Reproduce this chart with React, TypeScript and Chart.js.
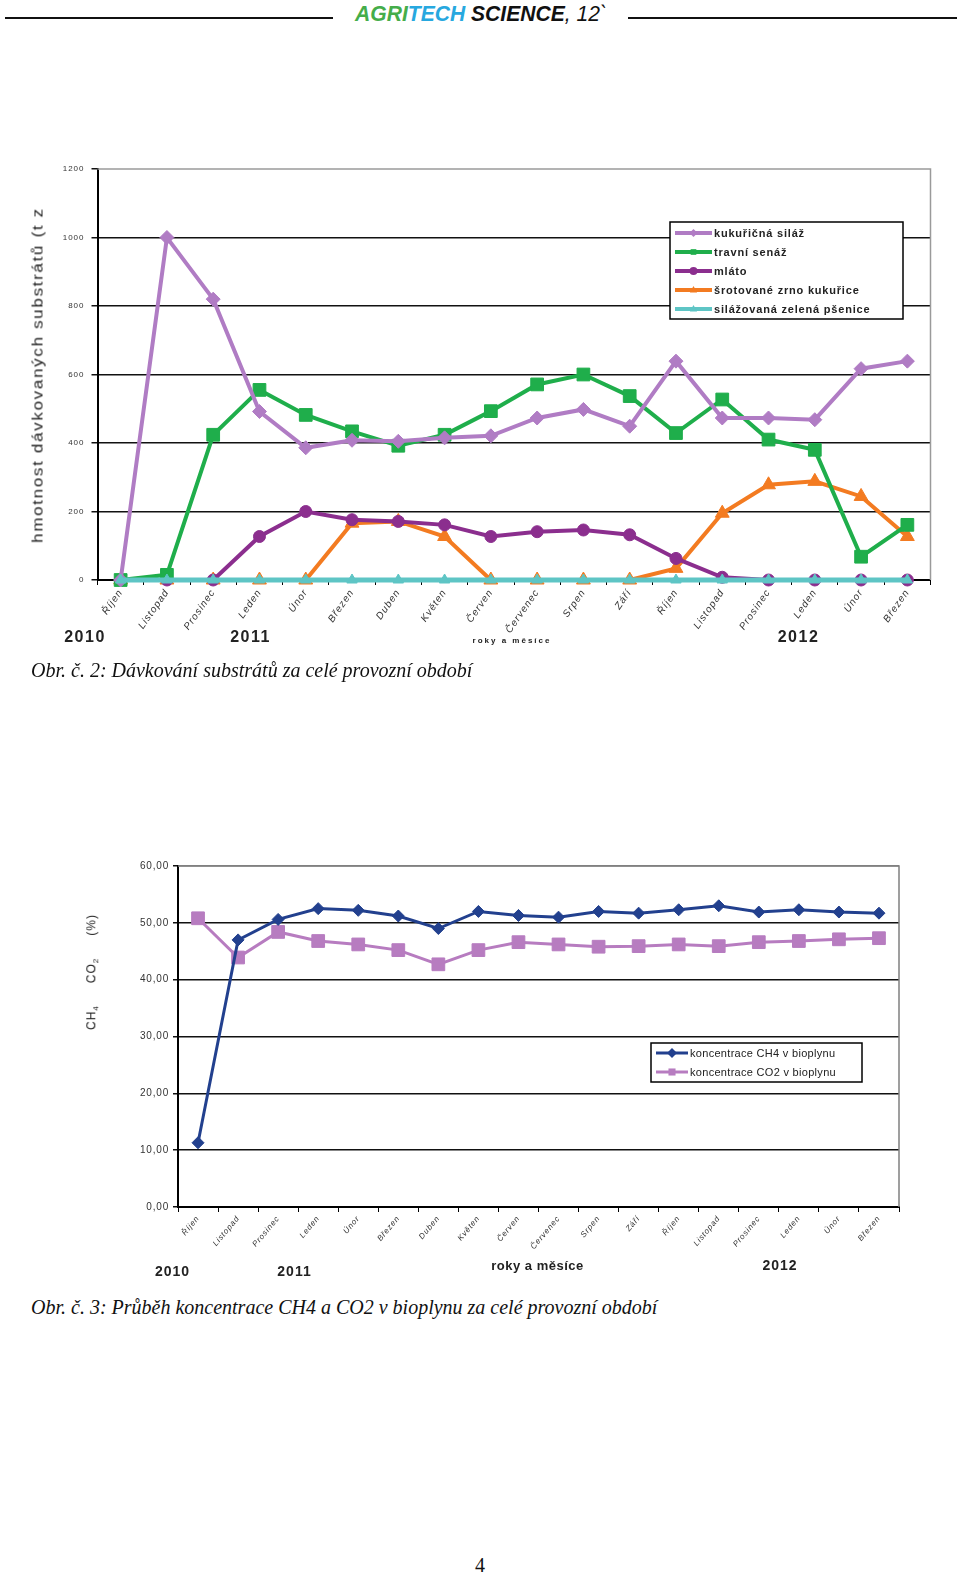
import React, { useEffect, useLayoutEffect, useRef } from 'react';
import { Chart, registerables } from 'chart.js';

Chart.register(...registerables);

const SANS = '"Liberation Sans", Arial, Helvetica, sans-serif';
const SERIF = '"Liberation Serif", "Times New Roman", serif';

// ---------- data ----------
const months = ['Říjen', 'Listopad', 'Prosinec', 'Leden', 'Únor', 'Březen', 'Duben', 'Květen', 'Červen', 'Červenec', 'Srpen', 'Září', 'Říjen', 'Listopad', 'Prosinec', 'Leden', 'Únor', 'Březen'];
const years = ['2010', '2011', '2012'];
const xAxisTitle = 'roky a měsíce';

const kukuricnaSilaz = [0, 1000, 820, 492, 386, 408, 405, 415, 421, 473, 498, 449, 639, 473, 473, 468, 617, 639];
const travniSenaz = [0, 15, 424, 555, 482, 434, 392, 424, 493, 571, 600, 537, 429, 527, 410, 380, 68, 161];
const mlato = [0, 0, 0, 127, 200, 176, 171, 161, 127, 141, 146, 132, 63, 8, 0, 0, 0, 0];
const srotovaneZrno = [0, 0, 0, 0, 0, 166, 171, 127, 0, 0, 0, 0, 34, 195, 278, 288, 244, 127];
const silazovanaPsenice = [0, 0, 0, 0, 0, 0, 0, 0, 0, 0, 0, 0, 0, 0, 0, 0, 0, 0];
const substrateTicks = [0, 200, 400, 600, 800, 1000, 1200];

const ch4 = [11.3, 47.0, 50.6, 52.5, 52.2, 51.2, 49.0, 52.0, 51.3, 51.0, 52.0, 51.7, 52.3, 53.0, 51.9, 52.3, 51.9, 51.7];
const co2 = [50.8, 43.9, 48.4, 46.8, 46.2, 45.2, 42.7, 45.2, 46.6, 46.2, 45.8, 45.9, 46.2, 45.9, 46.6, 46.8, 47.1, 47.3];
const gasTicks = [0, 10, 20, 30, 40, 50, 60];

// ---------- plugins ----------
const spacingPlugin = {
  id: 'spacing',
  beforeDraw(chart: any, _a: any, o: any) {
    chart.ctx.letterSpacing = (o && o.value) || '0px';
  },
  afterDraw(chart: any) {
    chart.ctx.letterSpacing = '0px';
  },
};

const framePlugin = {
  id: 'frame',
  beforeDatasetsDraw(chart: any, _a: any, o: any) {
    const { ctx, chartArea } = chart;
    ctx.save();
    ctx.strokeStyle = o.color || '#999';
    ctx.lineWidth = o.width || 1.5;
    ctx.beginPath();
    ctx.moveTo(chartArea.left, chartArea.top);
    ctx.lineTo(chartArea.right, chartArea.top);
    ctx.lineTo(chartArea.right, chartArea.bottom);
    ctx.stroke();
    ctx.restore();
  },
};

function drawMarker(ctx: CanvasRenderingContext2D, style: string, x: number, y: number, r: number, color: string) {
  ctx.fillStyle = color;
  ctx.beginPath();
  if (style === 'rect') {
    const s = r * Math.SQRT1_2;
    ctx.rect(x - s, y - s, 2 * s, 2 * s);
  } else if (style === 'rectRot') {
    ctx.moveTo(x, y - r);
    ctx.lineTo(x + r, y);
    ctx.lineTo(x, y + r);
    ctx.lineTo(x - r, y);
    ctx.closePath();
  } else if (style === 'triangle') {
    ctx.moveTo(x, y - r);
    ctx.lineTo(x + r * 0.9, y + r * 0.6);
    ctx.lineTo(x - r * 0.9, y + r * 0.6);
    ctx.closePath();
  } else {
    ctx.arc(x, y, r, 0, Math.PI * 2);
  }
  ctx.fill();
}

const boxLegendPlugin = {
  id: 'boxLegend',
  afterDraw(chart: any, _a: any, o: any) {
    const ctx: CanvasRenderingContext2D = chart.ctx;
    ctx.save();
    (ctx as any).letterSpacing = o.spacing || '1px';
    ctx.fillStyle = '#fff';
    ctx.fillRect(o.x, o.y, o.w, o.h);
    ctx.strokeStyle = '#000';
    ctx.lineWidth = 1.5;
    ctx.strokeRect(o.x, o.y, o.w, o.h);
    ctx.font = o.font;
    ctx.textBaseline = 'middle';
    ctx.textAlign = 'left';
    chart.data.datasets.forEach((d: any, i: number) => {
      const cy = o.y + o.first + i * o.row;
      const x1 = o.x + o.pad;
      const x2 = x1 + o.len;
      ctx.strokeStyle = d.borderColor;
      ctx.lineWidth = o.lineWidth;
      ctx.beginPath();
      ctx.moveTo(x1, cy);
      ctx.lineTo(x2, cy);
      ctx.stroke();
      drawMarker(ctx, d.pointStyle, (x1 + x2) / 2, cy, o.marker, d.borderColor);
      ctx.fillStyle = '#222';
      ctx.fillText(d.label, x2 + 2, cy + 0.5);
    });
    ctx.restore();
  },
};

const series = (label: string, data: number[], color: string, pointStyle: string, radius: number, width: number, order: number) => ({
  label,
  data,
  borderColor: color,
  backgroundColor: color,
  pointBackgroundColor: color,
  pointBorderColor: color,
  pointStyle,
  pointRadius: radius,
  pointBorderWidth: 1,
  borderWidth: width,
  tension: 0,
  clip: false,
  order,
});

function substrateConfig(): any {
  return {
    type: 'line',
    data: {
      labels: months,
      datasets: [
        series('kukuřičná siláž', kukuricnaSilaz, '#B07CC4', 'rectRot', 7, 4, 1),
        series('travní senáž', travniSenaz, '#1FAE4B', 'rect', 9, 4, 2),
        series('mláto', mlato, '#8B2E8E', 'circle', 6, 4, 3),
        series('šrotované zrno kukuřice', srotovaneZrno, '#F37B21', 'triangle', 8, 4, 4),
        series('silážovaná zelená pšenice', silazovanaPsenice, '#5EC5C5', 'triangle', 6, 5, 0),
      ],
    },
    options: {
      responsive: false,
      animation: false,
      events: [],
      layout: { padding: { top: 29, right: 29.5, left: 0, bottom: 0 } },
      plugins: {
        legend: { display: false },
        tooltip: { enabled: false },
        spacing: { value: '1px' },
        frame: { color: '#9a9a9a', width: 1.5 },
        boxLegend: {
          x: 670, y: 82, w: 233, h: 97, first: 11, row: 19, pad: 5, len: 37,
          lineWidth: 4, marker: 4, font: `bold 11px ${SANS}`, spacing: '0.8px',
        },
      },
      scales: {
        x: {
          offset: true,
          grid: { display: true, drawOnChartArea: false, drawTicks: true, tickLength: 5, color: '#000', offset: true },
          border: { color: '#000', width: 2 },
          ticks: { autoSkip: false, maxRotation: 55, minRotation: 55, padding: 2, color: '#333', font: { size: 10, style: 'italic', family: SANS } },
          afterFit: (s: any) => { s.height = 80; },
        },
        y: {
          min: substrateTicks[0],
          max: substrateTicks[substrateTicks.length - 1],
          afterBuildTicks: (s: any) => { s.ticks = substrateTicks.map((v) => ({ value: v })); },
          ticks: {
            padding: 7,
            color: '#333',
            font: { size: 8, family: SANS },
            callback: (v: any) => String(v),
          },
          grid: {
            color: (c: any) => (c.tick && c.tick.value === 1200 ? 'rgba(0,0,0,0)' : '#111'),
            lineWidth: 1.5,
            tickLength: 6,
            tickColor: '#111',
          },
          border: { color: '#000', width: 2 },
          afterFit: (s: any) => { s.width = 97.5; },
        },
      },
    },
    plugins: [spacingPlugin, framePlugin, boxLegendPlugin],
  };
}

function gasConfig(): any {
  return {
    type: 'line',
    data: {
      labels: months,
      datasets: [
        series('koncentrace CH4 v bioplynu', ch4, '#22408E', 'rectRot', 6, 3, 0),
        series('koncentrace CO2 v bioplynu', co2, '#B77CC0', 'rect', 9, 3, 1),
      ],
    },
    options: {
      responsive: false,
      animation: false,
      events: [],
      layout: { padding: { top: 26, right: 61, left: 0, bottom: 0 } },
      plugins: {
        legend: { display: false },
        tooltip: { enabled: false },
        spacing: { value: '0.8px' },
        frame: { color: '#808080', width: 1.5 },
        boxLegend: {
          x: 651, y: 203, w: 211, h: 39, first: 10, row: 19, pad: 5, len: 32,
          lineWidth: 3, marker: 5, font: `11px ${SANS}`, spacing: '0.3px',
        },
      },
      scales: {
        x: {
          offset: true,
          grid: { display: true, drawOnChartArea: false, drawTicks: true, tickLength: 5, color: '#000', offset: true },
          border: { color: '#000', width: 2 },
          ticks: { autoSkip: false, maxRotation: 50, minRotation: 50, padding: 2, color: '#333', font: { size: 8, style: 'italic', family: SANS } },
          afterFit: (s: any) => { s.height = 73; },
        },
        y: {
          min: gasTicks[0],
          max: gasTicks[gasTicks.length - 1],
          afterBuildTicks: (s: any) => { s.ticks = gasTicks.map((v) => ({ value: v })); },
          ticks: {
            padding: 4,
            color: '#333',
            font: { size: 10, family: SANS },
            callback: (v: any) => Number(v).toFixed(2).replace('.', ','),
          },
          grid: {
            color: (c: any) => (c.tick && c.tick.value === 60 ? '#808080' : '#111'),
            lineWidth: 1.5,
            tickLength: 5,
            tickColor: '#111',
          },
          border: { color: '#000', width: 2 },
          afterFit: (s: any) => { s.width = 178; },
        },
      },
    },
    plugins: [spacingPlugin, framePlugin, boxLegendPlugin],
  };
}

function ChartCanvas({ make, left, top, width, height }: any) {
  const ref = useRef<HTMLCanvasElement>(null);
  useEffect(() => {
    const chart = new Chart(ref.current as HTMLCanvasElement, make());
    return () => chart.destroy();
  }, []);
  return <canvas ref={ref} width={width} height={height} style={{ position: 'absolute', left, top, width, height }} />;
}

function FitText({ target, style, children }: any) {
  const ref = useRef<HTMLSpanElement>(null);
  useLayoutEffect(() => {
    const el = ref.current;
    if (!el) return;
    el.style.transform = 'none';
    const w = el.offsetWidth;
    if (w > 0) el.style.transform = `scaleX(${target / w})`;
  });
  return (
    <span ref={ref} style={{ display: 'inline-block', whiteSpace: 'nowrap', transformOrigin: 'center center', ...style }}>
      {children}
    </span>
  );
}

const abs = (extra: any) => ({ position: 'absolute' as const, whiteSpace: 'nowrap' as const, lineHeight: 1, ...extra });
const centered = (x: number, y: number, extra: any) => abs({ left: x, top: y, transform: 'translate(-50%, -50%)', ...extra });

export default function App() {
  return (
    <div style={{ position: 'absolute', left: 0, top: 0, width: 960, height: 1576, background: '#fff', overflow: 'hidden', fontFamily: SANS }}>
      {/* header */}
      <div style={abs({ left: 5, top: 17, width: 328, height: 2, background: '#111' })} />
      <div style={abs({ left: 628, top: 17, width: 329, height: 2, background: '#111' })} />
      <div style={centered(481, 14, { fontSize: 22, fontStyle: 'italic' })}>
        <FitText target={252}>
          <span style={{ fontWeight: 'bold', color: '#45AD4A' }}>AGRI</span>
          <span style={{ fontWeight: 'bold', color: '#27A8DF' }}>TECH</span>
          <span style={{ fontWeight: 'bold', color: '#111' }}> SCIENCE</span>
          <span style={{ color: '#111' }}>, 12`</span>
        </FitText>
      </div>

      {/* chart 1 */}
      <ChartCanvas make={substrateConfig} left={0} top={140} width={960} height={520} />
      <div style={centered(37, 375, { transform: 'translate(-50%, -50%) rotate(-90deg)', fontSize: 15, color: '#222' })}>
        <FitText target={336} style={{ letterSpacing: '1.5px' }}>hmotnost dávkovaných substrátů (t z</FitText>
      </div>
      <div style={centered(85, 637, { fontSize: 16, fontWeight: 'bold', letterSpacing: '1.5px', color: '#222' })}>{years[0]}</div>
      <div style={centered(250.5, 637, { fontSize: 16, fontWeight: 'bold', letterSpacing: '1.5px', color: '#222' })}>{years[1]}</div>
      <div style={centered(798.5, 637, { fontSize: 16, fontWeight: 'bold', letterSpacing: '1.5px', color: '#222' })}>{years[2]}</div>
      <div style={centered(512, 641, { fontSize: 8, fontWeight: 'bold', letterSpacing: '2px', color: '#222' })}>{xAxisTitle}</div>
      <div style={abs({ left: 31, top: 660, fontFamily: SERIF, fontStyle: 'italic', fontSize: 20, color: '#111' })}>
        Obr. č. 2: Dávkování substrátů za celé provozní období
      </div>

      {/* chart 2 */}
      <ChartCanvas make={gasConfig} left={0} top={840} width={960} height={440} />
      <div style={centered(92.5, 972, { transform: 'translate(-50%, -50%) rotate(-90deg)', fontSize: 12, color: '#222', letterSpacing: '1px' })}>
        <span>CH<sub style={{ fontSize: 8 }}>4</sub></span>
        <span style={{ marginLeft: 22 }}>CO<sub style={{ fontSize: 8 }}>2</sub></span>
        <span style={{ marginLeft: 22 }}>(%)</span>
      </div>
      <div style={centered(172.5, 1271, { fontSize: 14, fontWeight: 'bold', letterSpacing: '1px', color: '#222' })}>{years[0]}</div>
      <div style={centered(294.5, 1271, { fontSize: 14, fontWeight: 'bold', letterSpacing: '1px', color: '#222' })}>{years[1]}</div>
      <div style={centered(780, 1265, { fontSize: 14, fontWeight: 'bold', letterSpacing: '1px', color: '#222' })}>{years[2]}</div>
      <div style={centered(537.5, 1265, { fontSize: 13, fontWeight: 'bold', letterSpacing: '0.5px', color: '#222' })}>{xAxisTitle}</div>
      <div style={abs({ left: 31, top: 1297, fontFamily: SERIF, fontStyle: 'italic', fontSize: 20, color: '#111' })}>
        Obr. č. 3: Průběh koncentrace CH4 a CO2 v bioplynu za celé provozní období
      </div>

      {/* page number */}
      <div style={centered(480, 1565, { fontFamily: SERIF, fontSize: 20, color: '#111' })}>4</div>
    </div>
  );
}
